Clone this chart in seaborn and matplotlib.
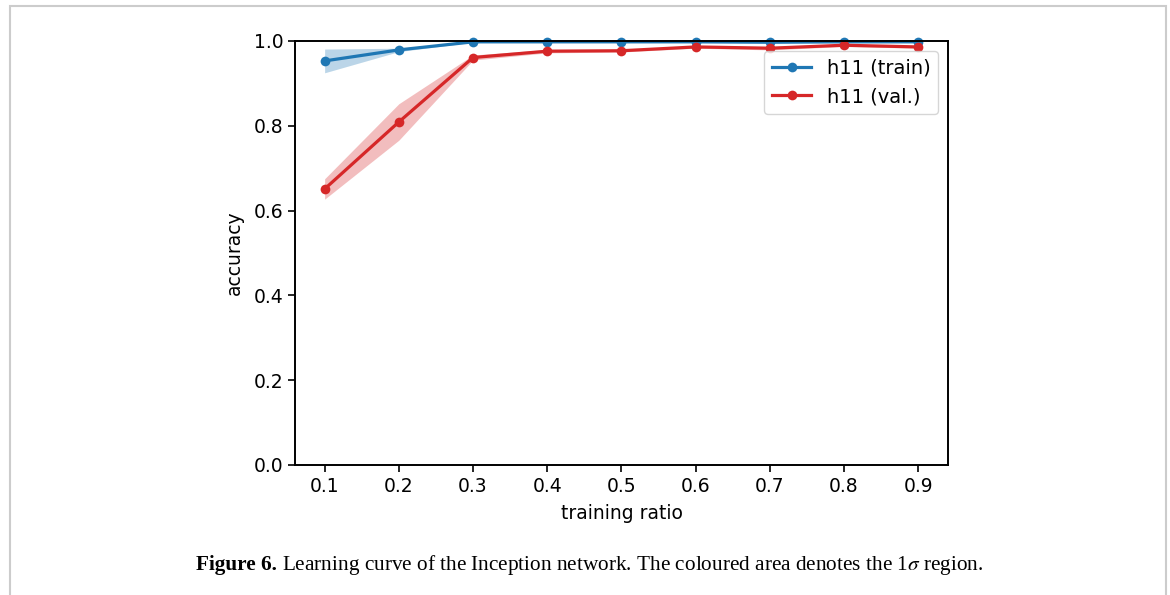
import numpy as np
import pandas as pd
import seaborn as sns
import matplotlib.pyplot as plt
from matplotlib.patches import Rectangle

# data
ratio = [0.1, 0.2, 0.3, 0.4, 0.5, 0.6, 0.7, 0.8, 0.9]
train_mean = [0.953, 0.979, 0.998, 0.998, 0.998, 0.998, 0.997, 0.998, 0.998]
train_std = [0.028, 0.004, 0.001, 0.001, 0.001, 0.001, 0.001, 0.001, 0.001]
val_mean = [0.651, 0.809, 0.961, 0.976, 0.977, 0.986, 0.983, 0.990, 0.986]
val_std = [0.024, 0.043, 0.006, 0.004, 0.003, 0.003, 0.004, 0.003, 0.003]

plt.rcParams["font.family"] = ["DejaVu Sans"]
plt.rcParams["font.size"] = 13.5
plt.rcParams["mathtext.fontset"] = "stix"
plt.rcParams["xtick.major.size"] = 5
plt.rcParams["ytick.major.size"] = 5
plt.rcParams["xtick.major.width"] = 1.2
plt.rcParams["ytick.major.width"] = 1.2
plt.rcParams["axes.linewidth"] = 1.4

df = pd.DataFrame({"ratio": ratio, "train": train_mean, "val": val_mean})

fig = plt.figure(figsize=(11.7, 5.95), dpi=100)
ax = fig.add_axes([0.2521, 0.2185, 0.5581, 0.7126])

#benzile de 1 sigma
tr_lo = np.array(train_mean) - np.array(train_std)
tr_hi = np.minimum(np.array(train_mean) + np.array(train_std), 1.0)
va_lo = np.array(val_mean) - np.array(val_std)
va_hi = np.array(val_mean) + np.array(val_std)
ax.fill_between(ratio, tr_lo, tr_hi, color="tab:blue", alpha=0.3, lw=0)
ax.fill_between(ratio, va_lo, va_hi, color="tab:red", alpha=0.3, lw=0)

sns.lineplot(data=df, x="ratio", y="train", ax=ax, color="tab:blue", marker="o",
             markersize=7, markeredgewidth=0, lw=2.3, label="h11 (train)", clip_on=False)
sns.lineplot(data=df, x="ratio", y="val", ax=ax, color="tab:red", marker="o",
             markersize=7, markeredgewidth=0, lw=2.3, label="h11 (val.)")

ax.set_ylim(0, 1.0)
ax.set_xlim(0.06, 0.94)
ax.set_xticks(ratio)
ax.set_xticklabels([f"{r:.1f}" for r in ratio])
ax.set_yticks([0.0, 0.2, 0.4, 0.6, 0.8, 1.0])
ax.set_xlabel("training ratio", labelpad=6)
ax.set_ylabel("accuracy", labelpad=7)
ax.legend(loc="upper right", fontsize=14)

#caption cu "Figure 6." bold
cap_y = 0.042
t1 = fig.text(196 / 1170, cap_y, "Figure 6.", family="Liberation Serif",
              weight="bold", fontsize=15.3, va="baseline")
fig.canvas.draw()
bb = t1.get_window_extent()
x2 = (bb.x1 + 5) / fig.bbox.width
fig.text(x2, cap_y, r"Learning curve of the Inception network. The coloured area denotes the 1$\sigma$ region.",
         family="Liberation Serif", fontsize=15.3, va="baseline")

#chenar gri in jurul figurii
fig.patches.append(Rectangle((10 / 1170, -0.02), 1156 / 1170, 589 / 595 + 0.02,
                             transform=fig.transFigure, fill=False,
                             edgecolor="#cccccc", lw=1.5))

fig.savefig("out.png", dpi=100)
